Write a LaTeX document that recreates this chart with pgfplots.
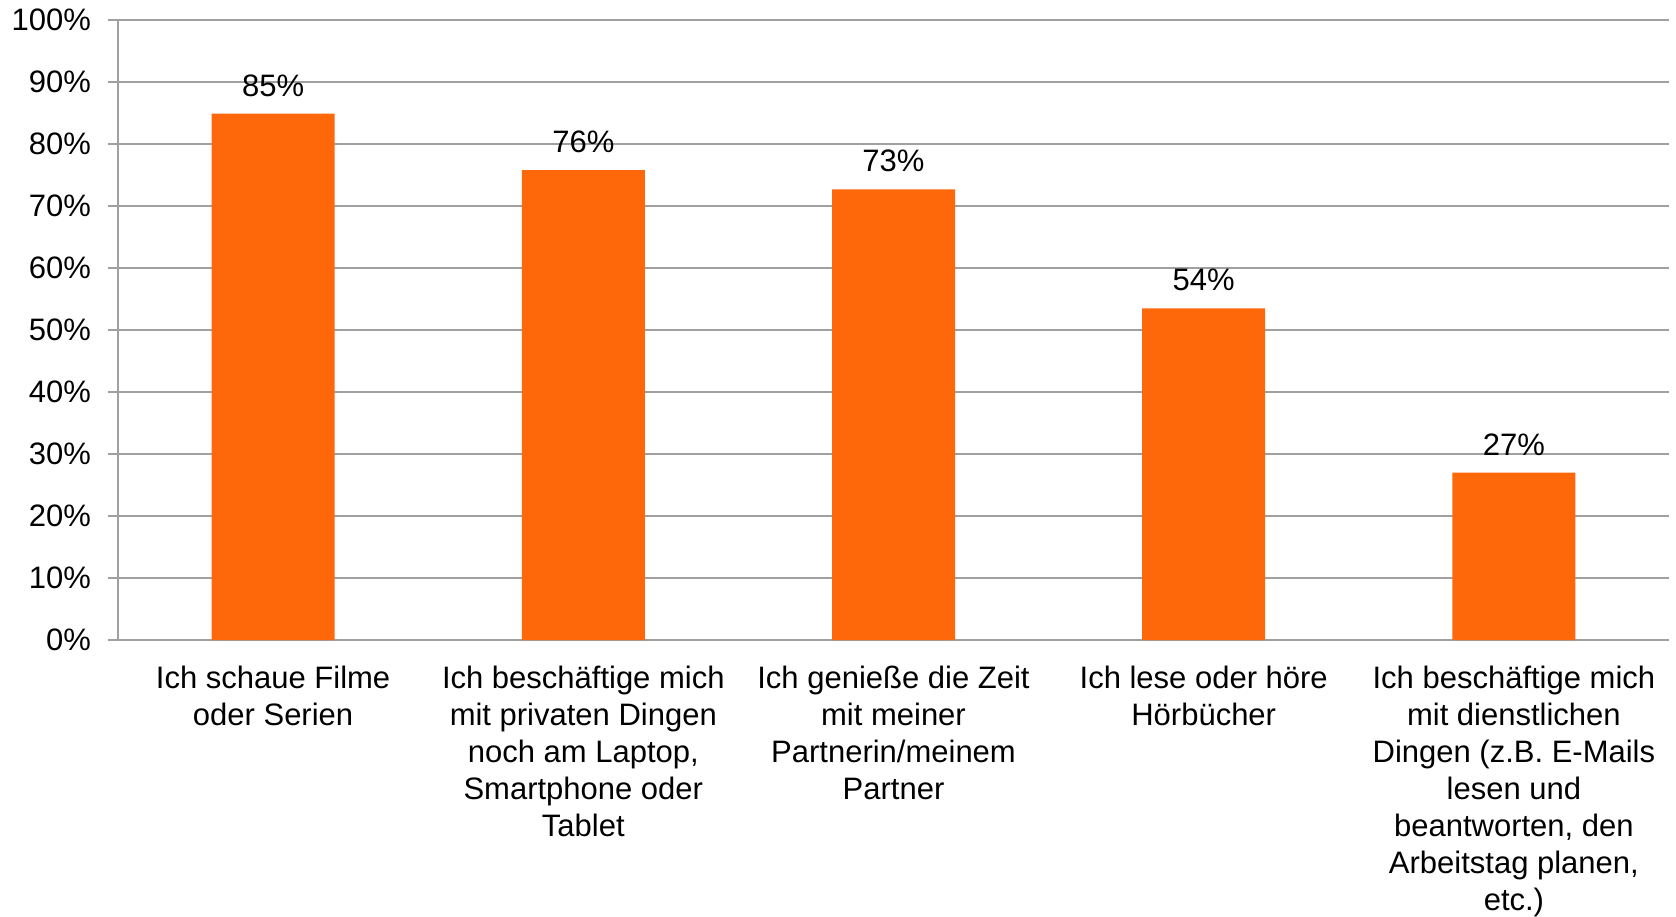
\documentclass[border=0pt]{standalone}
\usepackage{fontspec}
\setmainfont{Liberation Sans}
\usepackage{pgfplots}
\pgfplotsset{compat=1.18}
\definecolor{barorange}{RGB}{255,104,10}
\definecolor{gridgray}{RGB}{160,160,160}
\begin{document}
\begin{tikzpicture}
\path[use as bounding box] (0,0) rectangle (838pt,458pt);
\begin{axis}[
  at={(59pt,138pt)}, anchor=south west,
  scale only axis, width=775.5pt, height=310pt,
  xmin=-0.5, xmax=4.5, ymin=0, ymax=100,
  axis lines*=left,
  axis line style={gridgray, line width=0.8pt, -},
  ytick={0,10,...,100},
  yticklabels={0\%,10\%,20\%,30\%,40\%,50\%,60\%,70\%,80\%,90\%,100\%},
  ymajorgrids, grid style={gridgray, line width=0.8pt},
  tick align=outside, major tick length=5pt,
  ytick style={gridgray, line width=0.8pt},
  xtick={0,1,2,3,4},
  xtick style={draw=none},
  extra x ticks={-0.5,0.5,1.5,2.5,3.5,4.5},
  extra x tick labels={},
  extra x tick style={grid=none, tick style={draw=gridgray, line width=0.8pt}, major tick length=5pt},
  xticklabels={
    {Ich schaue Filme\\oder Serien},
    {Ich beschäftige mich\\mit privaten Dingen\\noch am Laptop,\\Smartphone oder\\Tablet},
    {Ich genieße die Zeit\\mit meiner\\Partnerin/meinem\\Partner},
    {Ich lese oder höre\\Hörbücher},
    {Ich beschäftige mich\\mit dienstlichen\\Dingen (z.B. E-Mails\\lesen und\\beantworten, den\\Arbeitstag planen,\\etc.)}
  },
  xticklabel style={align=center, anchor=north, yshift=-4.6pt, font=\fontsize{15.5}{18.45}\selectfont},
  yticklabel style={xshift=-5pt, font=\fontsize{15.5}{18.45}\selectfont},
  /pgf/number format/assume math mode=true,
  nodes near coords={\pgfmathprintnumber[fixed, precision=0]{\pgfplotspointmeta}\%},
  nodes near coords style={font=\fontsize{15.5}{18.45}\selectfont, anchor=south, yshift=5pt},
]
\addplot[ybar, bar width=61.5pt, fill=barorange, draw=none] coordinates {
  (0,84.9) (1,75.8) (2,72.7) (3,53.5) (4,27.0)
};
\end{axis}
\end{tikzpicture}
\end{document}
